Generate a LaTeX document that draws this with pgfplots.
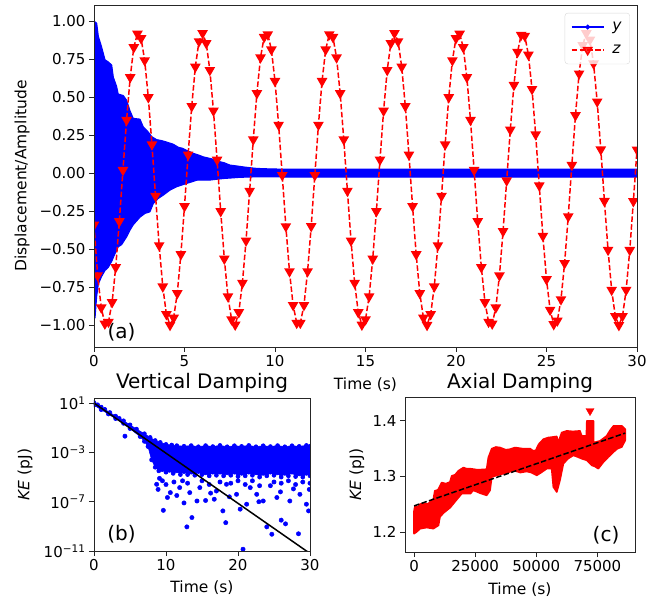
\documentclass[border=0pt]{standalone}
\usepackage{fontspec}
\setmainfont{DejaVu Sans}
\usepackage{pgfplots}
\pgfplotsset{compat=1.18}

\newcommand{\tickfont}{\fontsize{15bp}{18bp}\selectfont}
\newcommand{\labfont}{\fontsize{15.5bp}{18bp}\selectfont}
\newcommand{\titfont}{\fontsize{20bp}{24bp}\selectfont}

\pgfplotsset{
  mpl/.style={
    scale only axis, axis on top, clip marker paths=true,
    scaled x ticks=false, scaled y ticks=false,
    axis line style={line width=0.8bp, black!85},
    tick align=outside, major tick length=5bp, tick pos=left,
    every tick/.style={black!85, line width=0.8bp},
    tick label style={font=\tickfont, black},
    label style={font=\labfont},
    every axis title/.style={at={(0.5,1)}, anchor=south, font=\titfont},
  },
  legend image code/.code={\draw[mark repeat=2,mark phase=2,#1] plot coordinates {(0bp,0bp) (16bp,0bp) (32bp,0bp)};},
}

\begin{document}
\begin{tikzpicture}

% (a) displacement
\begin{axis}[mpl, at={(94bp,251bp)}, anchor=south west, width=543bp, height=342bp,
  xmin=0, xmax=30, ymin=-1.143, ymax=1.105,
  xtick={0,5,10,15,20,25,30}, xticklabels={0,5,10,15,20,25,30},
  ytick={-1,-0.75,-0.5,-0.25,0,0.25,0.5,0.75,1},
  yticklabels={−1.00,−0.75,−0.50,−0.25,0.00,0.25,0.50,0.75,1.00},
  xlabel={Time (s)}, ylabel={Displacement/Amplitude},
  xlabel style={at={(axis description cs:0.5,-0.111)}, anchor=center},
  ylabel style={at={(axis description cs:-0.1326,0.5)}, anchor=center},
  legend style={at={(0.987,0.977)}, anchor=north east, draw=black!15,
    rounded corners=3bp, fill=white, fill opacity=0.8, text opacity=1, draw opacity=1,
    font=\labfont, inner xsep=6bp, inner ysep=7bp, row sep=9bp,
    /tikz/every odd column/.append style={column sep=6bp}},
  legend cell align=left,
]
% y: envelope of the fast oscillation (upper edge, then lower edge back)
\addplot[blue, fill=blue, line width=1bp, line join=round, forget plot] coordinates {
(0,1.00)(0.15,0.985)(0.24,0.90)(0.42,0.83)(0.61,0.745)(0.8,0.73)(0.98,0.71)(1.07,0.63)(1.25,0.57)(1.34,0.52)
(1.62,0.51)(1.8,0.48)(1.99,0.41)(2.17,0.36)(2.54,0.355)(2.72,0.305)(3.0,0.27)(3.19,0.24)(3.46,0.22)(3.7,0.215)
(4.0,0.205)(4.38,0.19)(4.66,0.17)(4.9,0.163)(5.12,0.15)(5.49,0.13)(5.8,0.118)(6.04,0.107)(6.4,0.097)(6.7,0.088)
(6.96,0.075)(7.2,0.068)(7.51,0.053)(7.9,0.047)(8.25,0.041)(8.6,0.036)(9.0,0.031)(9.7,0.028)(10.5,0.026)(30,0.026)
(30,-0.026)(10.5,-0.026)(9.72,-0.024)(8.9,-0.025)(8.07,-0.028)(7.14,-0.036)(6.4,-0.046)(5.67,-0.047)(5.4,-0.058)(5.12,-0.068)
(4.57,-0.09)(4.2,-0.112)(3.83,-0.145)(3.55,-0.167)(3.28,-0.20)(3.09,-0.255)(2.82,-0.265)(2.54,-0.29)(2.17,-0.34)(1.99,-0.375)
(1.8,-0.42)(1.53,-0.47)(1.34,-0.485)(1.16,-0.53)(0.98,-0.58)(0.79,-0.62)(0.61,-0.64)(0.42,-0.68)(0.24,-0.73)(0.15,-0.81)
(0.06,-0.95)(0,-0.96)
} -- cycle;
\addlegendimage{blue, line width=1.5bp, mark=*, mark size=1.6bp}
\addlegendentry{\textit{y}}
\addplot[red, line width=1.5bp, dash pattern=on 5.5bp off 2.4bp, mark=triangle*, mark size=4.7bp,
  mark options={solid, rotate=180}] coordinates {
(0.0,-0.340)(0.2,-0.673)(0.4,-0.884)(0.6,-0.990)(0.8,-0.978)(1.0,-0.849)(1.2,-0.619)(1.4,-0.317)(1.6,0.020)(1.8,0.349)
(2.0,0.630)(2.2,0.827)(2.4,0.916)(2.6,0.886)(2.8,0.741)(3.0,0.498)(3.2,0.188)(3.4,-0.150)(3.6,-0.475)(3.8,-0.746)
(4.0,-0.928)(4.2,-0.999)(4.4,-0.951)(4.6,-0.790)(4.8,-0.534)(5.0,-0.218)(5.2,0.121)(5.4,0.440)(5.6,0.699)(5.8,0.866)
(6.0,0.920)(6.2,0.854)(6.4,0.677)(6.6,0.410)(6.8,0.088)(7.0,-0.251)(7.2,-0.563)(7.4,-0.811)(7.6,-0.962)(7.8,-0.997)
(8.0,-0.915)(8.2,-0.722)(8.4,-0.444)(8.6,-0.117)(8.8,0.221)(9.0,0.525)(9.2,0.760)(9.4,0.894)(9.6,0.912)(9.8,0.812)
(10.0,0.605)(10.2,0.317)(10.4,-0.014)(10.6,-0.350)(10.8,-0.646)(11.0,-0.868)(11.2,-0.985)(11.4,-0.985)(11.6,-0.868)(11.8,-0.646)
(12.0,-0.349)(12.2,-0.014)(12.4,0.317)(12.6,0.605)(12.8,0.812)(13.0,0.912)(13.2,0.894)(13.4,0.760)(13.6,0.525)(13.8,0.221)
(14.0,-0.117)(14.2,-0.444)(14.4,-0.722)(14.6,-0.915)(14.8,-0.997)(15.0,-0.962)(15.2,-0.811)(15.4,-0.563)(15.6,-0.251)(15.8,0.088)
(16.0,0.410)(16.2,0.677)(16.4,0.854)(16.6,0.920)(16.8,0.866)(17.0,0.699)(17.2,0.440)(17.4,0.121)(17.6,-0.218)(17.8,-0.534)
(18.0,-0.790)(18.2,-0.951)(18.4,-0.999)(18.6,-0.928)(18.8,-0.746)(19.0,-0.475)(19.2,-0.150)(19.4,0.188)(19.6,0.498)(19.8,0.741)
(20.0,0.886)(20.2,0.916)(20.4,0.827)(20.6,0.630)(20.8,0.349)(21.0,0.020)(21.2,-0.317)(21.4,-0.619)(21.6,-0.849)(21.8,-0.978)
(22.0,-0.990)(22.2,-0.884)(22.4,-0.673)(22.6,-0.382)(22.8,-0.049)(23.0,0.285)(23.2,0.579)(23.4,0.796)(23.6,0.908)(23.8,0.902)
(24.0,0.778)(24.2,0.552)(24.4,0.254)(24.6,-0.082)(24.8,-0.413)(25.0,-0.698)(25.2,-0.899)(25.4,-0.994)(25.6,-0.970)(25.8,-0.830)
(26.0,-0.592)(26.2,-0.285)(26.4,0.053)(26.6,0.380)(26.8,0.654)(27.0,0.841)(27.2,0.919)(27.4,0.877)(27.6,0.720)(27.8,0.470)
(28.0,0.155)(28.2,-0.184)(28.4,-0.505)(28.6,-0.768)(28.8,-0.940)(29.0,-1.000)(29.2,-0.940)(29.4,-0.768)(29.6,-0.506)(29.8,-0.185)
(30.0,0.154)
};
\addlegendentry{\textit{z}}
\node[font=\titfont] at (axis cs:1.52,-1.046) {(a)};
\end{axis}

% (b) vertical damping
\begin{axis}[mpl, at={(94bp,47bp)}, anchor=south west, width=216bp, height=153bp,
  ymode=log, xmin=0, xmax=30, ymin=1e-11, ymax=26.3,
  xtick={0,10,20,30}, xticklabels={0,10,20,30},
  ytick={1e-11,1e-7,1e-3,10}, yminorticks=false,
  yticklabels={10\textsuperscript{−11},10\textsuperscript{−7},10\textsuperscript{−3},10\textsuperscript{1}},
  title={Vertical Damping},
  title style={at={(axis description cs:0.5,1.097)}, anchor=center},
  xlabel={Time (s)}, ylabel={\textit{KE} (pJ)},
  xlabel style={at={(axis description cs:0.5,-0.24)}, anchor=center},
  ylabel style={at={(axis description cs:-0.319,0.5)}, anchor=center},
]
% dense band of points (upper edge, then lower edge back)
\addplot[blue, fill=blue, line width=0.6bp, mark=*, mark size=2bp] coordinates {
(0,11.2)(0.5,7.4)(1,4.8)(1.5,3.16)(2.2,1.74)(3,0.89)(3.5,0.59)(4.1,0.37)(5,0.174)(5.9,0.079)
(7,0.033)(7.8,0.0166)(8.5,9.3e-3)(9.2,6.5e-3)(10,4.5e-3)(10.8,4.0e-3)(11.5,3.55e-3)(12.5,3.2e-3)(13.5,3.6e-3)(14.5,2.9e-3)
(15.5,3.6e-3)(16.5,3.0e-3)(17.5,3.7e-3)(18.5,2.9e-3)(19.5,3.5e-3)(20.5,3.1e-3)(21.5,3.7e-3)(22.5,2.9e-3)(23.5,3.5e-3)(24.5,3.0e-3)
(25.5,3.6e-3)(26.5,2.9e-3)(27.5,3.5e-3)(28.5,3.1e-3)(29.5,3.7e-3)(30,3.2e-3)
(30,1.26e-5)(29.5,2.0e-5)(29,1e-5)(28.5,1.8e-5)(28,1.1e-5)(27.5,2.5e-5)(27,1.26e-5)(26.5,2.0e-5)(26,1e-5)(25.5,2.2e-5)
(25,1.4e-5)(24.5,2.5e-5)(24,1.26e-5)(23.5,2.0e-5)(23,1e-5)(22.5,2.2e-5)(22,1.4e-5)(21.5,2.5e-5)(21,1.26e-5)(20.5,2e-5)
(20,1.1e-5)(19.5,2.5e-5)(19,1.4e-5)(18.5,2.2e-5)(18,1.26e-5)(17.5,2.5e-5)(17,1.4e-5)(16.5,2.5e-5)(16,1.26e-5)(15.5,2.2e-5)
(15,1.6e-5)(14.5,2.8e-5)(14,1.4e-5)(13.5,2.5e-5)(13,1.6e-5)(12.5,2.8e-5)(12,1.6e-5)(11.5,3.2e-5)(11,2e-5)(10.5,3.5e-5)
(10,2.5e-5)(9.5,4e-5)(9,3.2e-5)(8.5,6.3e-5)(8,2.5e-4)(7.5,3.0e-3)(7,7.9e-3)(6.4,0.0195)(5,0.087)(4.1,0.23)
(3,0.56)(2,1.32)(1,3.0)(0,6.9)
} -- cycle;
\addplot[blue, only marks, mark=*, mark size=2.2bp] coordinates {
(4.3,0.021)(8.7,2.6e-6)(8.9,1e-6)(9.1,7.9e-6)(9.63,2.0e-8)(10.2,2.2e-7)(10.6,5.5e-7)(11.1,4.0e-6)(11.9,1.4e-6)(12.9,9.1e-10)
(13.3,5.5e-7)(13.6,5.2e-9)(14.3,1.15e-7)(14.7,1.4e-6)(15.5,1.26e-7)(16.2,5e-7)(17.0,7.4e-7)(17.9,1.8e-8)(18.3,2.0e-9)(18.4,2.6e-6)
(19.8,4e-7)(20.3,2.5e-8)(20.7,1.4e-11)(21.2,6.3e-8)(21.7,1.4e-6)(22.6,4e-7)(23.5,1.15e-7)(24.0,9.1e-10)(24.5,2e-6)(24.7,2.3e-10)
(25.4,2.2e-7)(26.0,3.2e-9)(26.6,1.6e-9)(27.2,1.15e-7)(27.7,1.1e-6)(28.4,2.5e-10)(28.6,4e-7)(29.5,6.3e-8)(29.8,1.8e-8)
(9.5,5e-6)(10.0,2.5e-6)(12.3,5e-6)(13.0,3.2e-6)(15.0,5e-6)(16.0,2.5e-6)(17.5,4e-6)(19.0,3.2e-6)(20.0,5e-6)(21.0,2.5e-6)
(22.0,5e-6)(23.0,2e-6)(25.0,4e-6)(26.0,3.2e-6)(27.0,5e-6)(28.0,2.5e-6)(29.0,4e-6)(30.0,3.2e-6)(11.5,3.2e-7)(16.7,1.6e-7)
(18.8,2.5e-7)(25.9,6.3e-7)(29.9,1e-6)(12.5,8e-8)(22.9,1e-7)
};
\addplot[black, line width=1.5bp] coordinates {(0,10.2)(30,6.3e-12)};
\node[font=\titfont] at (rel axis cs:0.127,0.11) {(b)};
\end{axis}

% (c) axial damping
\begin{axis}[mpl, at={(405bp,46bp)}, anchor=south west, width=230bp, height=155bp,
  xmin=-3700, xmax=90400, ymin=1.164, ymax=1.443,
  xtick={0,25000,50000,75000}, xticklabels={0,25000,50000,75000},
  ytick={1.2,1.3,1.4}, yticklabels={1.2,1.3,1.4},
  title={Axial Damping},
  title style={at={(axis description cs:0.5,1.09)}, anchor=center},
  xlabel={Time (s)}, ylabel={\textit{KE} (pJ)},
  xlabel style={at={(axis description cs:0.5,-0.24)}, anchor=center},
  ylabel style={at={(axis description cs:-0.209,0.5)}, anchor=center},
]
% band of the noisy signal (upper edge, then lower edge back)
\addplot[red, fill=red, line width=1.6bp, line join=round] coordinates {
(0,1.238)(400,1.247)(1500,1.245)(2400,1.250)(4000,1.252)(5500,1.250)(7900,1.259)(8500,1.274)(9800,1.276)(11300,1.289)
(13000,1.287)(14700,1.290)(15400,1.301)(16800,1.303)(18100,1.310)(20200,1.316)(21500,1.314)(23000,1.314)(26000,1.312)(29700,1.313)
(30400,1.334)(31800,1.350)(33500,1.353)(35200,1.352)(37500,1.348)(39300,1.349)(41300,1.352)(44500,1.350)(47500,1.350)(48800,1.346)
(49800,1.347)(51000,1.358)(52900,1.367)(54900,1.370)(56800,1.371)(58400,1.372)(59000,1.361)(60400,1.379)(62500,1.382)(65000,1.381)
(67900,1.382)(68600,1.373)(70500,1.373)(70700,1.400)(73400,1.400)(73500,1.361)(76100,1.364)(78800,1.373)(80200,1.383)(81600,1.391)
(85000,1.391)(86400,1.385)
(86400,1.365)(85000,1.353)(83200,1.350)(81600,1.344)(79500,1.335)(77500,1.326)(75400,1.314)(74000,1.318)(72700,1.320)(70700,1.329)
(68600,1.332)(67000,1.335)(65200,1.338)(63000,1.332)(61100,1.323)(59700,1.293)(58400,1.272)(57000,1.281)(56300,1.314)(54300,1.314)
(52000,1.307)(50200,1.302)(48000,1.307)(46100,1.309)(43500,1.307)(40600,1.311)(38500,1.307)(36600,1.305)(33900,1.302)(31800,1.299)
(31100,1.275)(29700,1.266)(27000,1.270)(24300,1.275)(23000,1.269)(19500,1.269)(17800,1.260)(16100,1.251)(14800,1.244)(13400,1.239)
(12000,1.234)(10600,1.227)(10000,1.212)(7900,1.206)(5200,1.208)(2500,1.206)(1000,1.200)(0,1.197)
} -- cycle;
\addplot[red, only marks, mark=triangle*, mark size=4.7bp, mark options={rotate=180}] coordinates {(72000,1.418)};
\addplot[black, line width=1.5bp, dash pattern=on 5.5bp off 2.4bp] coordinates {(0,1.247)(86400,1.378)};
\node[font=\titfont] at (rel axis cs:0.874,0.11) {(c)};
\end{axis}

\pgfresetboundingbox
\path[use as bounding box] (0,0) rectangle (657bp,598bp);
\end{tikzpicture}
\end{document}
